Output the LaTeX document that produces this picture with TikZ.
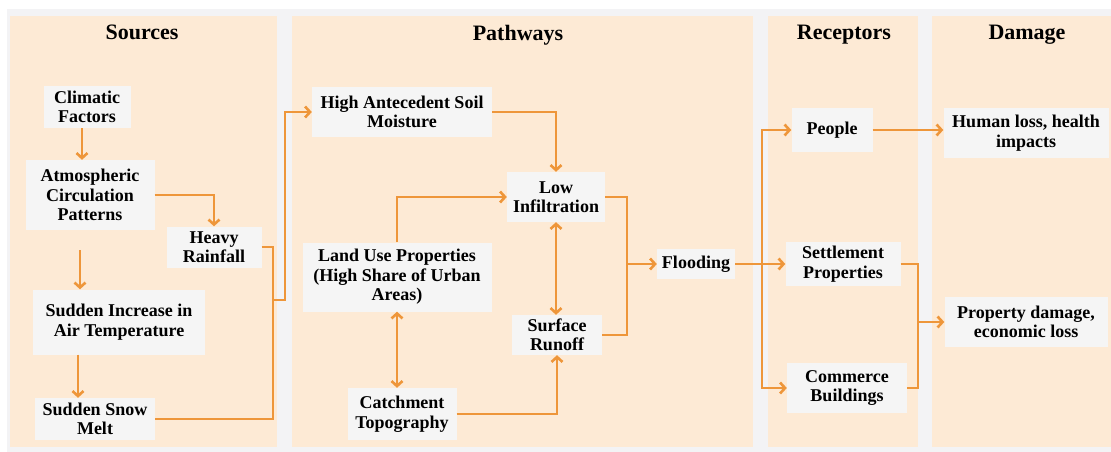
\documentclass[tikz,border=0pt]{standalone}
\usepackage{fontspec}
\setmainfont{Liberation Serif}
\usepackage{tikz}
\usetikzlibrary{arrows.meta,positioning,calc}

\definecolor{panelfill}{RGB}{253,234,213}
\definecolor{gapgray}{RGB}{243,243,245}
\definecolor{boxgray}{RGB}{245,245,245}
\definecolor{floworange}{RGB}{238,150,58}

\begin{document}
\begin{tikzpicture}[
  x=1pt, y=-1pt,
  head/.style={anchor=base,font=\fontsize{22}{24}\selectfont\bfseries},
  box/.style={rectangle,fill=boxgray,align=center,inner sep=2pt,font=\fontsize{18}{19.5}\selectfont\bfseries},
  link/.style={draw=floworange,line width=2.6pt},
  flow/.style={link,-{Straight Barb[length=5pt,width=11pt]}},
  both/.style={link,{Straight Barb[length=5pt,width=11pt]}-{Straight Barb[length=5pt,width=11pt]}},
]
\useasboundingbox (0,0) rectangle (1111,452);

% Background and columns
\fill[white] (0,0) rectangle (1111,452);
\fill[gapgray] (7,9) rectangle (1111,452);
\fill[panelfill] (10,16) rectangle (277,447);
\fill[panelfill] (292,16) rectangle (753,447);
\fill[panelfill] (768,16) rectangle (918,447);
\fill[panelfill] (932,16) rectangle (1111,447);

% Headings
\node[head] (hsources) at (142,40) {Sources};
\node[head] (hpathways) at (518,41) {Pathways};
\node[head] (hreceptors) at (844,40) {Receptors};
\node[head] (hdamage) at (1027,40) {Damage};

% Sources
\node[box,minimum width=87pt,minimum height=42pt] (clim) at (87,107) {Climatic\\Factors};
\node[box,minimum width=129pt,minimum height=70pt] (atmos) at (90,195) {Atmospheric\\Circulation\\Patterns};
\node[box,minimum width=95pt,minimum height=41pt] (rain) at (214,247) {Heavy\\Rainfall};
\node[box,minimum width=172pt,minimum height=65pt] (incr) at (119,322) {Sudden Increase in\\Air Temperature};
\node[box,minimum width=120pt,minimum height=42pt] (snow) at (95,419) {Sudden Snow\\Melt};

% Pathways
\node[box,minimum width=180pt,minimum height=50pt] (soil) at (402,112) {High Antecedent Soil\\Moisture};
\node[box,minimum width=98pt,minimum height=50pt] (infil) at (556,197) {Low\\Infiltration};
\node[box,minimum width=189pt,minimum height=69pt] (land) at (397,277) {Land Use Properties\\(High Share of Urban\\Areas)};
\node[box,minimum width=90pt,minimum height=40pt] (runoff) at (557,335) {Surface\\Runoff};
\node[box,minimum width=109pt,minimum height=52pt] (catch) at (402,414) {Catchment\\Topography};
\node[box,minimum width=78pt,minimum height=30pt] (flood) at (696,264) {Flooding};

% Receptors
\node[box,minimum width=81pt,minimum height=44pt] (people) at (832,130) {People};
\node[box,minimum width=115pt,minimum height=44pt] (settle) at (843,264) {Settlement\\Properties};
\node[box,minimum width=120pt,minimum height=50pt] (comm) at (847,388) {Commerce\\Buildings};

% Damage
\node[box,minimum width=165pt,minimum height=50pt] (human) at (1026,133) {Human loss, health\\impacts};
\node[box,minimum width=163pt,minimum height=50pt] (prop) at (1026,322) {Property damage,\\economic loss};

% Arrows in sources
\draw[flow] ([xshift=-5pt]clim.south) -- ([xshift=-5pt]clim.south |- atmos.north);
\draw[flow] (atmos.east) -| (rain.north);
\draw[flow,shorten <=20pt] ([xshift=-10pt]atmos.south) -- ([xshift=-10pt]atmos.south |- incr.north);
\draw[flow] ([xshift=-41pt]incr.south) -- ([xshift=-41pt]incr.south |- snow.north);
\coordinate (srcjoin) at (273,300);
\draw[link] (rain.east) -| (srcjoin);
\draw[link] (snow.east) -| (srcjoin);
\draw[flow] (srcjoin) -- ++(12,0) |- (soil.west);

% Arrows in pathways
\draw[flow] (soil.east) -| (infil.north);
\draw[flow] (land.north) |- (infil.west);
\draw[both] (infil.south) -- (infil.south |- runoff.north);
\draw[both] (land.south) -- (land.south |- catch.north);
\draw[flow] (catch.east) -| (runoff.south);
\coordinate (pathjoin) at (627,264);
\draw[link] (infil.east) -| (pathjoin);
\draw[link] (runoff.east) -| (pathjoin);
\draw[flow] (pathjoin) -- (flood.west);

% Arrows to receptors and damage
\coordinate (recjoin) at (762,264);
\draw[link] (flood.east) -- (recjoin);
\draw[flow] (recjoin) |- (people.west);
\draw[flow] (recjoin) -- (settle.west);
\draw[flow] (recjoin) |- (comm.west);
\draw[flow] (people.east) -- (people.east -| human.west);
\coordinate (dmgjoin) at (918,322);
\draw[link] (settle.east) -| (dmgjoin);
\draw[link] (comm.east) -| (dmgjoin);
\draw[flow] (dmgjoin) -- (prop.west);

\end{tikzpicture}
\end{document}
